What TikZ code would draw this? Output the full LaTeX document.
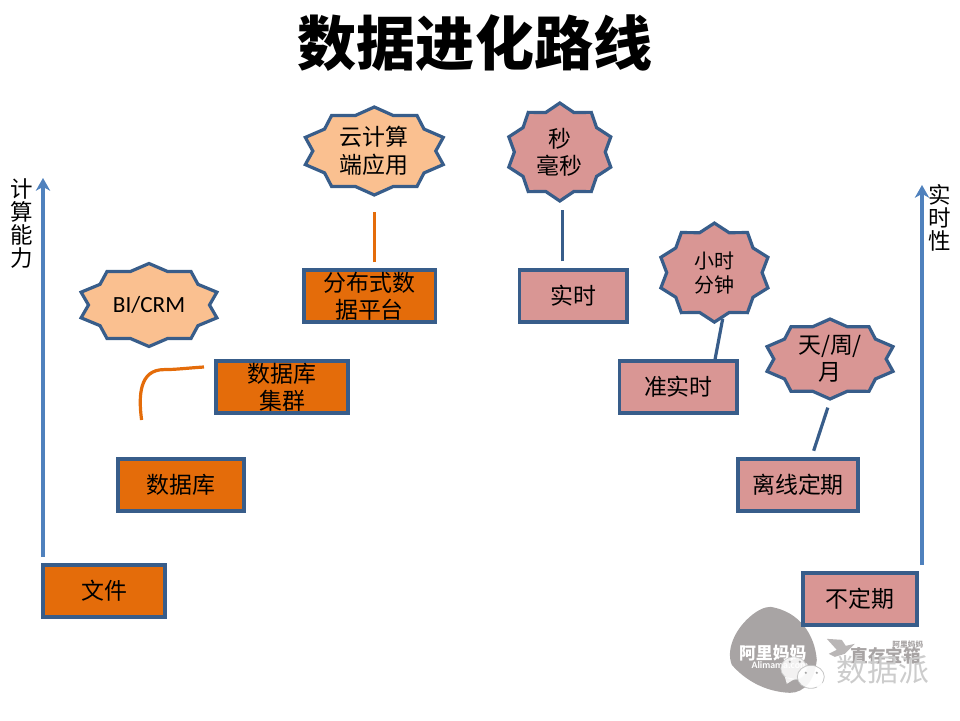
\documentclass[tikz,border=0pt]{standalone}
\usepackage{fontspec}
\usepackage{xcolor}
\usepackage{tikz}
\usetikzlibrary{shapes,arrows,arrows.meta,positioning}
\setmainfont{Noto Sans CJK SC}
\newfontfamily\latinfont{Carlito}
\definecolor{darkorange}{RGB}{228,108,10}
\definecolor{lightorange}{RGB}{250,192,144}
\definecolor{dustypink}{RGB}{217,150,148}
\definecolor{edgeblue}{RGB}{56,93,138}
\definecolor{axisblue}{RGB}{79,129,189}
\definecolor{logogray}{RGB}{168,164,164}
\tikzset{
    stage/.style={draw=edgeblue, line width=0.08cm, rectangle, inner sep=0pt, align=center, font=\fontsize{16.3}{19}\selectfont, minimum height=1.3cm},
    burst/.style={draw=edgeblue, line width=0.08cm, star, star points=10, star point ratio=1.18, inner sep=0pt, minimum size=#1, transform shape},
    bursttext/.style={align=center, inner sep=0pt, font=\fontsize{16.3}{19.5}\selectfont},
    axis/.style={draw=axisblue, line width=0.08cm, -{Stealth[length=0.32cm,width=0.36cm,inset=0.1cm]}},
    axislabel/.style={align=center, inner sep=0pt, font=\fontsize{16}{16.4}\selectfont},
    bluelink/.style={draw=edgeblue, line width=0.08cm},
    orangelink/.style={draw=darkorange, line width=0.08cm}
}
\begin{document}
\begin{tikzpicture}
    \useasboundingbox (0,0) rectangle (24,18);
    \node[font=\fontsize{42}{50}\bfseries\selectfont, inner sep=0pt] (title) at (11.875,16.925) {数据进化路线};

    % logo in the corner, pixel coordinates
    \begin{scope}[shift={(0,18)}, x=0.025cm, y=-0.025cm]
        \fill[logogray] (771,607) .. controls (800,612) and (815,635) .. (817,660) .. controls (815,680) and (805,693) .. (790,693) .. controls (765,692) and (745,680) .. (732,665) .. controls (726,650) and (735,630) .. (750,617) .. controls (758,610) and (765,607) .. (771,607) -- cycle;
        \node[white, inner sep=0pt, font=\fontsize{12}{14}\bfseries\selectfont] (alimama) at (773,653) {阿里妈妈};
        \node[white, inner sep=0pt, font=\latinfont\fontsize{7}{8}\bfseries\selectfont] (alimamaen) at (780,665) {Alimama.com};
        \fill[logogray!80] (827,639) -- (842,640) -- (846,646) -- (855,644) -- (845,654) -- (835,657) -- (829,654) -- (837,650) -- cycle;
        \node[logogray, inner sep=0pt, font=\fontsize{12.5}{14}\bfseries\selectfont] (baoxiang) at (886,656) {直存宝箱};
        \node[logogray, inner sep=0pt, font=\fontsize{5.5}{6}\bfseries\selectfont] (alimamasmall) at (908,645) {阿里妈妈};
        \fill[white, opacity=0.85, draw=gray!40, line width=0.02cm] (794,668.5) ellipse (13 and 11.5);
        \fill[white, opacity=0.85] (785,677) -- (787,684) -- (795,679) -- cycle;
        \fill[white, opacity=0.9, draw=gray!50, line width=0.02cm] (811,677) ellipse (13.5 and 11.5);
        \fill[white, opacity=0.9] (816,686) -- (823,692) -- (822,682) -- cycle;
        \fill[gray!70] (790,662) circle (1.2) (800,662) circle (1.2) (806,673) circle (1.2) (817,673) circle (1.2);
        \node[gray!40, inner sep=0pt, font=\fontsize{22}{24}\selectfont] (shujupai) at (883,670) {数据派};
    \end{scope}

    % left column
    \node[stage, fill=darkorange, minimum width=3.05cm] (wenjian) at (2.6,3.225) {文件};
    \node[stage, fill=darkorange, minimum width=3.15cm, above of=wenjian, node distance=2.65cm, xshift=1.925cm] (shujuku) {数据库};
    \node[stage, fill=darkorange, minimum width=3.3cm, above of=shujuku, node distance=2.45cm, xshift=2.525cm] (jiqun) {数据库\\集群};
    \node[stage, fill=darkorange, minimum width=3.28cm, above of=jiqun, node distance=2.275cm, xshift=2.1875cm] (fenbu) {分布式数\\据平台};
    \node[burst=2.2cm, fill=lightorange, above of=fenbu, node distance=3.625cm, xshift=0.12cm, xscale=1.648] (yun) {};
    \node[bursttext] (yuntext) at (yun) {云计算\\端应用};
    \node[burst=2.075cm, fill=lightorange, above of=shujuku, node distance=4.5cm, xshift=-0.8cm, xscale=1.72] (bi) {};
    \node[bursttext, font=\latinfont\fontsize{16.5}{19}\selectfont] (bitext) at (bi) {BI/CRM};

    % right column
    \node[stage, fill=dustypink, minimum width=2.85cm] (buding) at (21.5,3.025) {不定期};
    \node[stage, fill=dustypink, minimum width=3cm, above of=buding, node distance=2.85cm, xshift=-1.55cm] (lixian) {离线定期};
    \node[stage, fill=dustypink, minimum width=2.93cm, above of=lixian, node distance=2.45cm, xshift=-2.99cm] (zhun) {准实时};
    \node[stage, fill=dustypink, minimum width=2.68cm, above of=zhun, node distance=2.275cm, xshift=-2.625cm] (shishi) {实时};
    \node[burst=2.45cm, fill=dustypink, above of=shishi, node distance=3.6cm, xshift=-0.34cm, xscale=1.094] (miao) {};
    \node[bursttext] (miaotext) at (miao) {秒\\毫秒};
    \node[burst=2.475cm, fill=dustypink, above of=zhun, node distance=2.86cm, xshift=0.9cm, xscale=1.137] (hour) {};
    \node[bursttext, font=\fontsize{14.2}{17}\selectfont] (hourtext) at (hour) {小时\\分钟};
    \node[burst=2cm, fill=dustypink, above of=lixian, node distance=3.15cm, xshift=0.8cm, xscale=1.656] (day) {};
    \node[bursttext] (daytext) at (day) {天/周/\\月};

    % axes
    \coordinate (leftfoot) at (1.075,4.075);
    \coordinate (lefthead) at (1.075,13.55);
    \coordinate (rightfoot) at (23.05,3.875);
    \coordinate (righthead) at (23.05,13.375);
    \draw[axis] (leftfoot) -- (lefthead);
    \draw[axis] (rightfoot) -- (righthead);
    \node[axislabel, anchor=north] (leftlabel) at (0.55,13.55) {计\\算\\能\\力};
    \node[axislabel, anchor=north] (rightlabel) at (23.5,13.4) {实\\时\\性};

    % connectors
    \coordinate (curvefoot) at (3.54,7.5);
    \coordinate (curvehead) at (5.1,8.825);
    \draw[orangelink] (curvefoot) .. controls (3.46,8.1) and (3.48,8.76) .. (4.1,8.76) .. controls (4.4,8.76) and (4.7,8.8) .. (curvehead);
    \draw[orangelink, shorten <=0.15cm, shorten >=0.375cm] (yun.south |- fenbu.north) -- (yun.south);
    \draw[bluelink, shorten <=0.175cm, shorten >=0.175cm] (shishi.111) -- (shishi.111 |- miao.south);
    \draw[bluelink] (zhun.37) -- (hour.-81);
    \draw[bluelink, shorten <=0.175cm, shorten >=0.175cm] (lixian.64) -- (day.south);
\end{tikzpicture}
\end{document}
